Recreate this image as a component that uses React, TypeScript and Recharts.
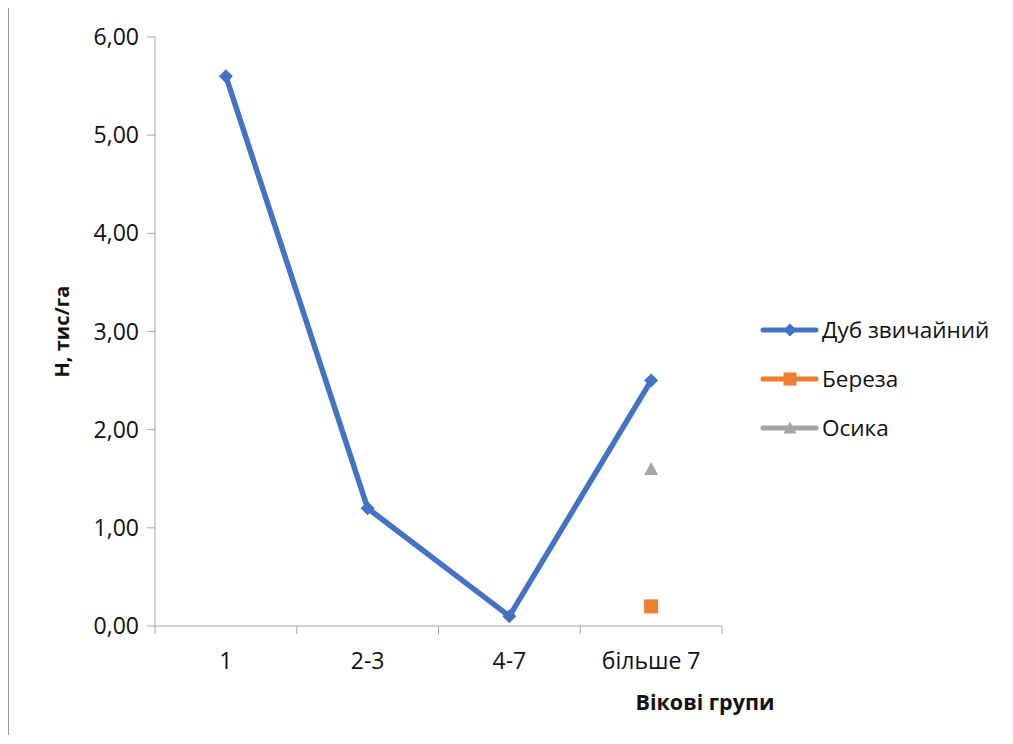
import { LineChart, Line, XAxis, YAxis, Legend, Label } from 'recharts'

// вікові групи та густота, тис/га
const categories = ['1', '2-3', '4-7', 'більше 7']
const dubValues = [5.6, 1.2, 0.1, 2.5]
const berezaValues = [null, null, null, 0.2]
const osykaValues = [null, null, null, 1.6]
const yTicks = [0, 1, 2, 3, 4, 5, 6]

const data = categories.map((group, i) => ({
  group,
  dub: dubValues[i],
  bereza: berezaValues[i],
  osyka: osykaValues[i],
}))

const SERIES = [
  { key: 'dub', name: 'Дуб звичайний', color: '#4472C4', shape: 'diamond' },
  { key: 'bereza', name: 'Береза', color: '#ED7D31', shape: 'square' },
  { key: 'osyka', name: 'Осика', color: '#A5A5A5', shape: 'triangle' },
]

const W = 990
const H = 720
const MARGIN = { top: 29, right: 277, bottom: 0, left: 0 }
const Y_WIDTH = 146
const X_HEIGHT = H - 618
const FONT = '"Open Sans", sans-serif'
const AXIS = '#a6a6a6'
const TEXT = '#111'

const bandWidth = (W - MARGIN.left - Y_WIDTH - MARGIN.right) / categories.length

function Marker({ shape, cx, cy, color, r }: any) {
  if (shape === 'diamond') {
    return (
      <polygon
        points={`${cx},${cy - r} ${cx + r},${cy} ${cx},${cy + r} ${cx - r},${cy}`}
        fill={color}
      />
    )
  }
  if (shape === 'square') {
    return <rect x={cx - r} y={cy - r} width={r * 2} height={r * 2} fill={color} />
  }
  return (
    <polygon
      points={`${cx},${cy - r} ${cx + r},${cy + r * 0.85} ${cx - r},${cy + r * 0.85}`}
      fill={color}
    />
  )
}

const makeDot = (shape: string, color: string, r: number) => (props: any) => {
  const { cx, cy, value, index } = props
  if (value == null || cx == null || cy == null) return <g key={index} />
  return (
    <g key={index}>
      <Marker shape={shape} cx={cx} cy={cy} color={color} r={r} />
    </g>
  )
}

function XTick(props: any) {
  const { x, y, payload, index } = props
  const half = bandWidth / 2
  return (
    <g>
      <line x1={x - half} x2={x - half} y1={y} y2={y + 8} stroke={AXIS} />
      {index === categories.length - 1 && (
        <line x1={x + half} x2={x + half} y1={y} y2={y + 8} stroke={AXIS} />
      )}
      <text x={x} y={y + 43} textAnchor="middle" fill={TEXT} fontSize={23} fontFamily={FONT}>
        {payload.value}
      </text>
    </g>
  )
}

function LegendBox() {
  return (
    <div style={{ fontFamily: FONT, fontSize: 22.5, color: TEXT }}>
      {SERIES.map((s) => (
        <div key={s.key} style={{ display: 'flex', alignItems: 'center', height: 49 }}>
          <svg width={60} height={20}>
            <line x1={3} x2={56} y1={10} y2={10} stroke={s.color} strokeWidth={5} strokeLinecap="round" />
            <Marker shape={s.shape} cx={30} cy={10} color={s.color} r={6.5} />
          </svg>
          <span style={{ marginLeft: 2 }}>{s.name}</span>
        </div>
      ))}
    </div>
  )
}

export default function App() {
  return (
    <div style={{ width: 1000, height: 727, marginTop: -1, borderTop: `1px solid ${AXIS}`, borderLeft: `1px solid #999` }}>
      <LineChart width={W} height={H} data={data} margin={MARGIN}>
        <XAxis
          dataKey="group"
          height={X_HEIGHT}
          stroke={AXIS}
          tickLine={false}
          tickSize={0}
          tickMargin={0}
          tick={<XTick />}
          interval={0}
          padding={{ left: bandWidth / 2, right: bandWidth / 2 }}
        >
          <Label
            content={({ viewBox }: any) => (
              <text
                x={viewBox.x + 550}
                y={viewBox.y + 75}
                textAnchor="middle"
                dominantBaseline="central"
                fontFamily={FONT}
                fontSize={21.5}
                fontWeight="bold"
                fill={TEXT}
              >
                Вікові групи
              </text>
            )}
          />
        </XAxis>
        <YAxis
          width={Y_WIDTH}
          domain={[0, 6]}
          ticks={yTicks}
          stroke={AXIS}
          tickSize={8}
          tickMargin={8}
          tick={{ fill: TEXT, fontSize: 23, fontFamily: FONT }}
          tickFormatter={(v: number) => v.toFixed(2).replace('.', ',')}
        >
          <Label
            content={({ viewBox }: any) => {
              const cx = viewBox.x + 52
              const cy = viewBox.y + viewBox.height / 2
              return (
                <text
                  x={cx}
                  y={cy}
                  transform={`rotate(-90, ${cx}, ${cy})`}
                  textAnchor="middle"
                  dominantBaseline="central"
                  fontFamily={FONT}
                  fontSize={20}
                  fontWeight="bold"
                  fill={TEXT}
                >
                  Н, тис/га
                </text>
              )
            }}
          />
        </YAxis>
        <Legend
          layout="vertical"
          align="center"
          verticalAlign="middle"
          wrapperStyle={{ left: 751, top: 297, width: 239 }}
          content={() => <LegendBox />}
        />
        {SERIES.map((s) => (
          <Line
            key={s.key}
            dataKey={s.key}
            name={s.name}
            stroke={s.color}
            strokeWidth={5.5}
            strokeLinejoin="round"
            dot={makeDot(s.shape, s.color, 7)}
            activeDot={false}
            isAnimationActive={false}
          />
        ))}
      </LineChart>
    </div>
  )
}
